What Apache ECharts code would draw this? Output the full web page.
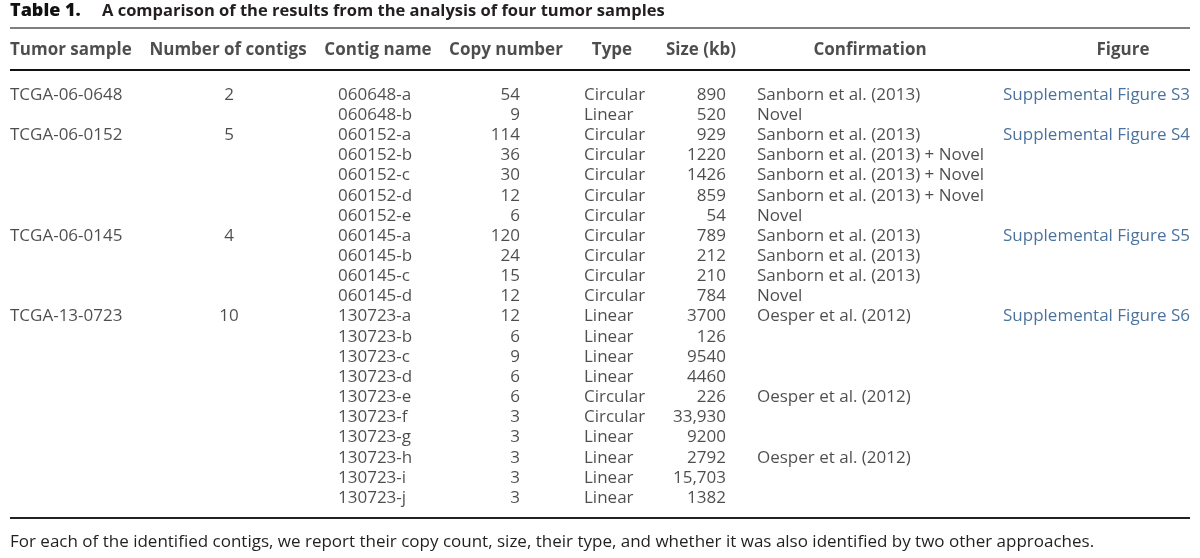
<!DOCTYPE html>
<html>
<head>
<meta charset="utf-8">
<script src="https://cdn.jsdelivr.net/npm/echarts@6/dist/echarts.min.js"></script>
<style>html,body{margin:0;padding:0;background:#fff}#c{width:1200px;height:558px}</style>
</head>
<body>
<div id="c"></div>
<script>
// ---- data ----
var headers = ['Tumor sample', 'Number of contigs', 'Contig name', 'Copy number', 'Type', 'Size (kb)', 'Confirmation', 'Figure'];
var tumorSamples = ['TCGA-06-0648', 'TCGA-06-0152', 'TCGA-06-0145', 'TCGA-13-0723'];
var numContigs = [2, 5, 4, 10];
var figures = ['Supplemental Figure S3', 'Supplemental Figure S4', 'Supplemental Figure S5', 'Supplemental Figure S6'];
var contigNames = ['060648-a', '060648-b', '060152-a', '060152-b', '060152-c', '060152-d', '060152-e',
  '060145-a', '060145-b', '060145-c', '060145-d',
  '130723-a', '130723-b', '130723-c', '130723-d', '130723-e', '130723-f', '130723-g', '130723-h', '130723-i', '130723-j'];
var copyNumbers = [54, 9, 114, 36, 30, 12, 6, 120, 24, 15, 12, 12, 6, 9, 6, 6, 3, 3, 3, 3, 3];
var types = ['Circular', 'Linear', 'Circular', 'Circular', 'Circular', 'Circular', 'Circular',
  'Circular', 'Circular', 'Circular', 'Circular',
  'Linear', 'Linear', 'Linear', 'Linear', 'Circular', 'Circular', 'Linear', 'Linear', 'Linear', 'Linear'];
var sizes = [890, 520, 929, 1220, 1426, 859, 54, 789, 212, 210, 784, 3700, 126, 9540, 4460, 226, 33930, 9200, 2792, 15703, 1382];
var confirmations = ['Sanborn et al. (2013)', 'Novel', 'Sanborn et al. (2013)', 'Sanborn et al. (2013) + Novel',
  'Sanborn et al. (2013) + Novel', 'Sanborn et al. (2013) + Novel', 'Novel',
  'Sanborn et al. (2013)', 'Sanborn et al. (2013)', 'Sanborn et al. (2013)', 'Novel',
  'Oesper et al. (2012)', '', '', '', 'Oesper et al. (2012)', '', '', 'Oesper et al. (2012)', '', ''];
var titleText = 'Table 1.';
var titleRest = 'A comparison of the results from the analysis of four tumor samples';
var footnote = 'For each of the identified contigs, we report their copy count, size, their type, and whether it was also identified by two other approaches.';

// ---- layout ----
var FONT = '"Open Sans", sans-serif';
var FS = 17;
var TXT = '#231f20';
var LINK = '#1d4f86';
var HEADER_ROW = -2.23;
// column anchors in x-axis units (axis spans the page width)
var cols = [
  {x: 10, align: 'left', hx: 10, halign: 'left'},
  {x: 229, align: 'center', hx: 228, halign: 'center'},
  {x: 338, align: 'left', hx: 378, halign: 'center'},
  {x: 520, align: 'right', hx: 506, halign: 'center'},
  {x: 584, align: 'left', hx: 612, halign: 'center'},
  {x: 726, align: 'right', hx: 701, halign: 'center'},
  {x: 757, align: 'left', hx: 870, halign: 'center'},
  {x: 1003, align: 'left', hx: 1123, halign: 'center'}
];

function fmtSize(v) {
  return v >= 10000 ? String(v).replace(/\B(?=(\d{3})+(?!\d))/g, ',') : String(v);
}

// starting rows for each sample
var starts = [];
var acc = 0;
numContigs.forEach(function (n) { starts.push(acc); acc += n; });

var columnData = [
  tumorSamples.map(function (t, i) { return [t, starts[i]]; }),
  numContigs.map(function (n, i) { return [String(n), starts[i]]; }),
  contigNames.map(function (t, i) { return [t, i]; }),
  copyNumbers.map(function (t, i) { return [String(t), i]; }),
  types.map(function (t, i) { return [t, i]; }),
  sizes.map(function (t, i) { return [fmtSize(t), i]; }),
  confirmations.map(function (t, i) { return [t, i]; }),
  figures.map(function (t, i) { return [t, starts[i]]; })
];

function textSeries(points, align, bold, color) {
  return {
    type: 'scatter',
    symbolSize: 1,
    itemStyle: {color: 'rgba(0,0,0,0)'},
    clip: false,
    silent: true,
    animation: false,
    data: points,
    label: {
      show: true,
      position: 'inside',
      align: align,
      verticalAlign: 'middle',
      formatter: function (p) { return p.value[2]; },
      fontFamily: FONT,
      fontSize: FS,
      fontWeight: bold ? 'bold' : 'normal',
      color: color
    },
    labelLayout: {hideOverlap: false}
  };
}

var series = [];
headers.forEach(function (h, c) {
  series.push(textSeries([[cols[c].hx, HEADER_ROW, h]], cols[c].halign, true, TXT));
});
columnData.forEach(function (arr, c) {
  var pts = arr.filter(function (d) { return d[0] !== ''; }).map(function (d) { return [cols[c].x, d[1], d[0]]; });
  series.push(textSeries(pts, cols[c].align, false, c === 7 ? LINK : TXT));
});

var chart = echarts.init(document.getElementById('c'), null, {renderer: 'canvas'});
chart.setOption({
  backgroundColor: '#fff',
  animation: false,
  grid: {left: 0, right: 0, top: 95, height: 403},
  xAxis: {type: 'value', min: 0, max: 1200, show: false},
  yAxis: {type: 'value', min: 0, max: 20, inverse: true, show: false},
  graphic: [
    {type: 'text', left: 10, top: 2, style: {text: titleText, font: '800 18px ' + FONT, fill: '#111'}},
    {type: 'text', left: 102, top: 3, style: {text: titleRest, font: 'bold 16.5px ' + FONT, fill: TXT}},
    {type: 'line', shape: {x1: 10, y1: 28, x2: 1190, y2: 28}, style: {stroke: '#555', lineWidth: 1.5}},
    {type: 'line', shape: {x1: 10, y1: 70, x2: 1190, y2: 70}, style: {stroke: '#111', lineWidth: 2}},
    {type: 'line', shape: {x1: 10, y1: 518, x2: 1190, y2: 518}, style: {stroke: '#222', lineWidth: 2}},
    {type: 'text', left: 10, top: 534, style: {text: footnote, font: FS + 'px ' + FONT, fill: TXT}}
  ],
  series: series
});
</script>
</body>
</html>
